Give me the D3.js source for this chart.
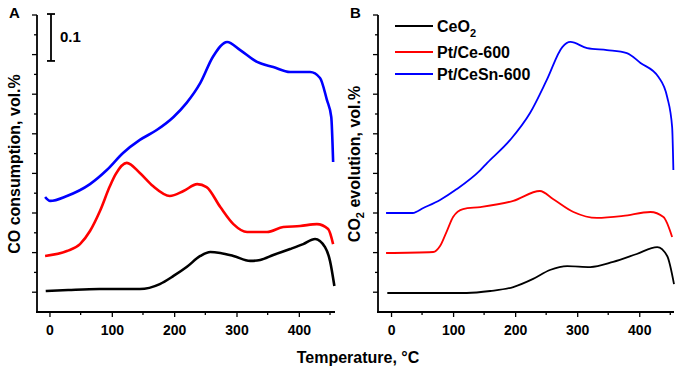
<!DOCTYPE html>
<html>
<head>
<meta charset="utf-8">
<script src="https://cdn.jsdelivr.net/npm/d3@7"></script>
<style>
  body { margin: 0; background: #fff; }
  text { font-family: "Liberation Sans", Arial, sans-serif; font-weight: bold; }
</style>
</head>
<body>
<div id="main"></div>
<script>
var ctx = { w: 680, h: 368 };

// temperature (°C) and signal (in minor-tick units, offset curves)
var ceA = [[-6,1.06],[30,1.11],[80,1.16],[145,1.16],[177,1.41],[199,1.82],[220,2.27],[242,2.83],[258,3.03],[274,2.98],[295,2.83],[322,2.58],[338,2.63],[359,2.88],[386,3.18],[407,3.43],[426,3.69],[442,3.28],[450,2.58],[457,1.31]];
var ptCeA = [[-7,2.83],[28,3.08],[49,3.43],[65,4.09],[81,5.10],[97,6.36],[106,6.95],[124,7.53],[145,7.02],[166,6.36],[193,5.86],[215,6.11],[237,6.46],[252,6.31],[274,5.30],[295,4.44],[317,4.04],[349,4.04],[375,4.29],[402,4.34],[429,4.44],[447,4.19],[455,3.43]];
var ptCeSnA = [[-7,5.81],[1,5.61],[28,5.86],[65,6.46],[92,7.17],[118,8.03],[145,8.69],[172,9.19],[199,9.85],[220,10.56],[242,11.57],[262,12.88],[285,13.64],[306,13.23],[333,12.63],[359,12.37],[386,12.12],[418,12.12],[434,11.82],[445,10.71],[452,9.85],[455,7.58]];

var ceB = [[-6,0.96],[122,0.96],[160,1.06],[197,1.26],[229,1.67],[256,2.12],[284,2.32],[321,2.27],[358,2.53],[396,2.93],[429,3.28],[445,2.83],[456,1.41]];
var ptCeB = [[-8,2.98],[68,3.03],[79,3.33],[90,4.09],[100,4.80],[116,5.20],[144,5.30],[197,5.61],[240,6.11],[261,5.71],[294,5.05],[332,4.75],[374,4.85],[418,5.05],[439,4.80],[453,3.79]];
var ptCeSnB = [[-8,5.00],[35,5.00],[52,5.25],[79,5.66],[106,6.21],[144,7.17],[155,7.53],[192,8.69],[224,10.05],[251,11.72],[276,13.38],[289,13.64],[316,13.33],[348,13.23],[380,13.08],[402,12.58],[431,11.87],[445,10.86],[453,9.34],[455,7.17]];

var xTicks = [0, 100, 200, 300, 400];
var xMinor = [50, 150, 250, 350, 450];
var yMajor = [1, 3, 5, 7, 9, 11, 13, 15];
var yMinor = [2, 4, 6, 8, 10, 12, 14];
var seriesNames = ["CeO2", "Pt/Ce-600", "Pt/CeSn-600"];
var colors = ["#000000", "#ff0000", "#0000ff"];
var scaleBar = [12.68, 15.05]; // 0.1 vol.% bar, in tick units

var svg = d3.select("#main").append("svg")
    .attr("width", ctx.w).attr("height", ctx.h);

var drawPanel = function (opt) {
    var x = d3.scaleLinear().domain(opt.xDomain).range(opt.xRange);
    var y = d3.scaleLinear().domain([0, 15]).range([312, 15]);
    var g = svg.append("g");

    // y axis line + ticks
    g.append("line").attr("x1", opt.xRange[0]).attr("x2", opt.xRange[0])
        .attr("y1", 15).attr("y2", 312.5)
        .attr("stroke", "#000").attr("stroke-width", 1.8);
    g.selectAll(".ymaj").data(yMajor).enter().append("line")
        .attr("x1", opt.xRange[0] - 5).attr("x2", opt.xRange[0])
        .attr("y1", (d) => y(d)).attr("y2", (d) => y(d))
        .attr("stroke", "#000").attr("stroke-width", 1.3);
    g.selectAll(".ymin").data(yMinor).enter().append("line")
        .attr("x1", opt.xRange[0] - 3).attr("x2", opt.xRange[0])
        .attr("y1", (d) => y(d)).attr("y2", (d) => y(d))
        .attr("stroke", "#000").attr("stroke-width", 1.3);

    // x axis
    var xAxis = d3.axisBottom(x).tickValues(xTicks).tickSize(5).tickSizeOuter(0).tickPadding(8);
    var ax = g.append("g").attr("transform", "translate(0,312)").call(xAxis);
    ax.select(".domain").attr("stroke-width", 1.8)
        .attr("d", "M" + (opt.xRange[0] - 1) + ",0H" + opt.xRange[1]);
    ax.selectAll(".tick line").attr("stroke-width", 1.3);
    ax.selectAll("text").style("font-size", "14px").style("font-weight", "bold")
        .style("font-family", "Liberation Sans, Arial, sans-serif").attr("fill", "#000");
    g.selectAll(".xmin").data(xMinor).enter().append("line")
        .attr("x1", (d) => x(d)).attr("x2", (d) => x(d))
        .attr("y1", 312).attr("y2", 315)
        .attr("stroke", "#000").attr("stroke-width", 1.3);

    var line = d3.line().x((d) => x(d[0])).y((d) => y(d[1])).curve(d3.curveMonotoneX);
    opt.series.forEach(function (s, i) {
        g.append("path").datum(s).attr("d", line)
            .attr("fill", "none").attr("stroke", colors[i])
            .attr("stroke-width", opt.lw).attr("stroke-linejoin", "round");
    });

    g.append("text").attr("x", opt.xRange[0] - 28).attr("y", 18)
        .style("font-size", "15px").text(opt.letter);

    return { x: x, y: y, g: g };
};

var pA = drawPanel({
    xDomain: [-20, 458], xRange: [37, 335], letter: "A",
    series: [ceA, ptCeA, ptCeSnA], lw: 2.6
});
var pB = drawPanel({
    xDomain: [-21, 456], xRange: [378, 674], letter: "B",
    series: [ceB, ptCeB, ptCeSnB], lw: 1.8
});

// scale bar (panel A)
var sb = pA.g.append("g");
var sbx = 51;
sb.append("line").attr("x1", sbx).attr("x2", sbx)
    .attr("y1", pA.y(scaleBar[1])).attr("y2", pA.y(scaleBar[0]))
    .attr("stroke", "#000").attr("stroke-width", 1.8);
[scaleBar[0], scaleBar[1]].forEach(function (v) {
    sb.append("line").attr("x1", sbx - 4).attr("x2", sbx + 4)
        .attr("y1", pA.y(v)).attr("y2", pA.y(v))
        .attr("stroke", "#000").attr("stroke-width", 1.8);
});
sb.append("text").attr("x", 60).attr("y", 42).style("font-size", "15px").text("0.1");

// axis titles
svg.append("text").attr("transform", "translate(20,164) rotate(-90)")
    .attr("text-anchor", "middle").style("font-size", "16px")
    .text("CO consumption, vol.%");
var t2 = svg.append("text").attr("transform", "translate(360,164) rotate(-90)")
    .attr("text-anchor", "middle").style("font-size", "16px");
t2.append("tspan").text("CO");
t2.append("tspan").attr("dy", 4).style("font-size", "11px").text("2");
t2.append("tspan").attr("dy", -4).text(" evolution, vol.%");

svg.append("text").attr("x", 358).attr("y", 363).attr("text-anchor", "middle")
    .style("font-size", "16px").text("Temperature, °C");

// legend (panel B)
var legY = [26, 52, 74];
var leg = svg.append("g");
seriesNames.forEach(function (n, i) {
    leg.append("line").attr("x1", 395).attr("x2", 433)
        .attr("y1", legY[i]).attr("y2", legY[i])
        .attr("stroke", colors[i]).attr("stroke-width", 1.8);
    var t = leg.append("text").attr("x", 437).attr("y", legY[i] + 6)
        .style("font-size", "16px");
    if (n === "CeO2") {
        t.append("tspan").text("CeO");
        t.append("tspan").attr("dy", 5).style("font-size", "11px").text("2");
    } else {
        t.text(n);
    }
});
</script>
</body>
</html>
